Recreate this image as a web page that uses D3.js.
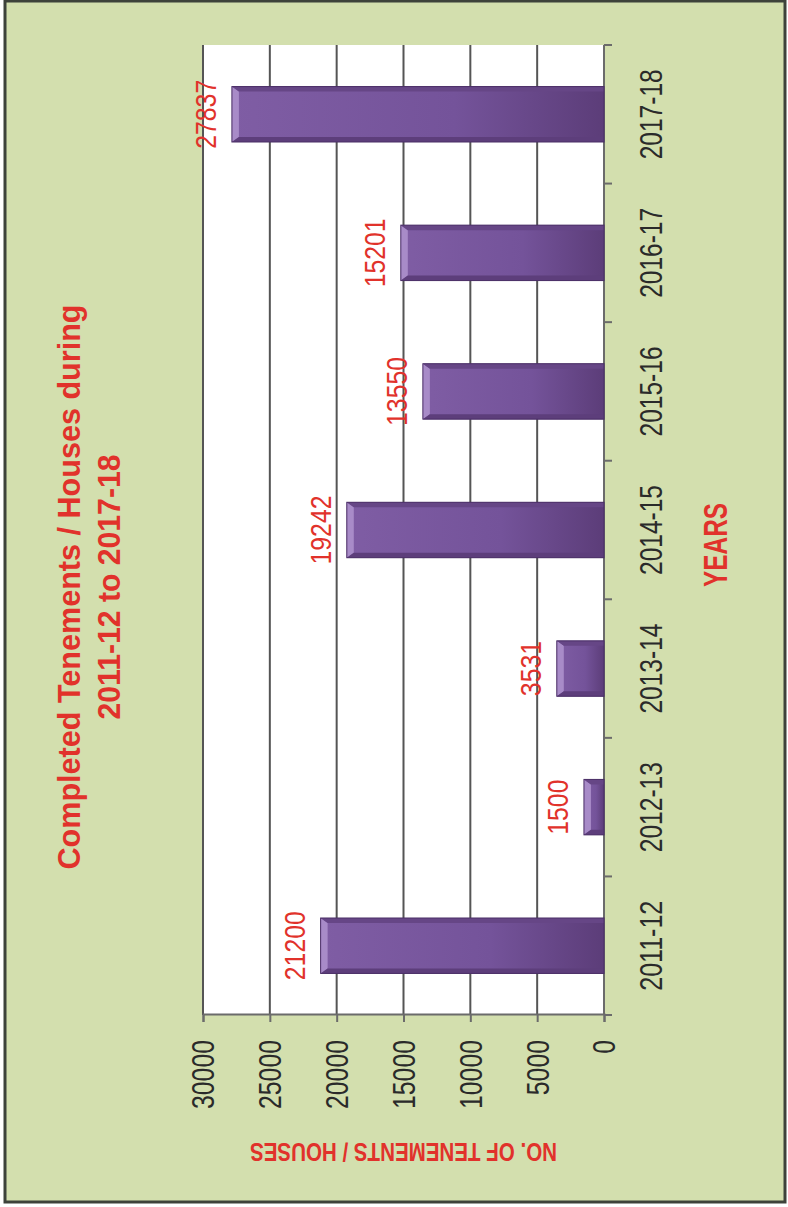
<!DOCTYPE html>
<html>
<head>
<meta charset="utf-8">
<script src="https://cdn.jsdelivr.net/npm/d3@7/dist/d3.min.js"></script>
<style>
  html, body { margin: 0; padding: 0; background: #ffffff; }
  svg { display: block; }
</style>
</head>
<body>
<svg id="chart" width="788" height="1207"></svg>
<script>
// ---- data ----
const categories = ["2011-12", "2012-13", "2013-14", "2014-15", "2015-16", "2016-17", "2017-18"];
const values = [21200, 1500, 3531, 19242, 13550, 15201, 27837];
const valueTicks = [0, 5000, 10000, 15000, 20000, 25000, 30000];
const titleLines = ["Completed Tenements / Houses during", "2011-12 to 2017-18"];
const xAxisTitle = "YEARS";
const yAxisTitle = "NO. OF TENEMENTS / HOUSES";

// ---- setup ----
const PW = 788, PH = 1207;
const svg = d3.select("#chart");
const RED = "#e1322b";
const FONT = "'Liberation Sans Narrow', 'Liberation Sans', Arial, sans-serif";
const CHAR_W = 13.8; // rendered width per numeral

// page background & frame
svg.append("rect").attr("x", 5).attr("y", 1).attr("width", 780).attr("height", 1201)
  .attr("fill", "#d3dfae").attr("stroke", "#3d423a").attr("stroke-width", 3);

// whole chart is drawn in a local (landscape) frame and rotated -90deg
const g = svg.append("g").attr("transform", `translate(0,${PH}) rotate(-90)`);

const plot = { left: 192, right: 1162, top: 203, bottom: 604 };

const x = d3.scaleBand().domain(categories).range([plot.left, plot.right])
  .paddingInner(0.6).paddingOuter(0.3);
const y = d3.scaleLinear().domain([0, 30000]).range([plot.bottom, plot.top]);

// defs: bar gradient
const defs = svg.append("defs");
const grad = defs.append("linearGradient").attr("id", "barGrad")
  .attr("x1", 0).attr("y1", 0).attr("x2", 0).attr("y2", 1);
grad.append("stop").attr("offset", "0%").attr("stop-color", "#7f5da4");
grad.append("stop").attr("offset", "60%").attr("stop-color", "#74539a");
grad.append("stop").attr("offset", "100%").attr("stop-color", "#5c3d79");

// plot area
g.append("rect").attr("x", plot.left).attr("y", plot.top)
  .attr("width", plot.right - plot.left).attr("height", plot.bottom - plot.top)
  .attr("fill", "#ffffff");

// gridlines
g.append("g").selectAll("line").data(valueTicks.filter(d => d > 0)).join("line")
  .attr("x1", plot.left).attr("x2", plot.right)
  .attr("y1", d => y(d)).attr("y2", d => y(d))
  .attr("stroke", "#555555").attr("stroke-width", 2);

// value axis (local left)
const yAxis = g.append("g").attr("transform", `translate(${plot.left},0)`)
  .call(d3.axisLeft(y).tickValues(valueTicks).tickSize(7).tickPadding(18).tickFormat(d3.format("d")));
yAxis.select(".domain").attr("stroke", "#6b6b6b").attr("stroke-width", 2);
yAxis.selectAll(".tick line").attr("stroke", "#6b6b6b").attr("stroke-width", 2);
yAxis.selectAll(".tick text").attr("font-family", FONT).attr("font-size", 31)
  .attr("fill", "#2a2a2a").attr("dy", "0.35em")
  .attr("textLength", d => String(d).length * CHAR_W).attr("lengthAdjust", "spacingAndGlyphs");

// category axis (local bottom)
const catTickVals = categories.map(c => x(c) - x.step() * x.paddingInner() / 2)
  .concat([plot.right]);
const xAxisG = g.append("g").attr("transform", `translate(0,${plot.bottom})`);
xAxisG.append("line").attr("x1", plot.left).attr("x2", plot.right)
  .attr("stroke", "#6b6b6b").attr("stroke-width", 2);
xAxisG.selectAll("line.tk").data(catTickVals).join("line").attr("class", "tk")
  .attr("x1", d => d).attr("x2", d => d).attr("y1", 0).attr("y2", 8)
  .attr("stroke", "#6b6b6b").attr("stroke-width", 2);
xAxisG.selectAll("text").data(categories).join("text")
  .attr("x", d => x(d) + x.bandwidth() / 2).attr("y", 58)
  .attr("text-anchor", "middle").attr("font-family", FONT).attr("font-size", 31)
  .attr("fill", "#2a2a2a").attr("textLength", 90).attr("lengthAdjust", "spacingAndGlyphs")
  .text(d => d);

// bars
const data = categories.map((c, i) => ({ c, v: values[i] }));
const bars = g.append("g").selectAll("g").data(data).join("g");
const s = 5, b = 7;
bars.append("rect")
  .attr("x", d => x(d.c)).attr("y", d => y(d.v))
  .attr("width", x.bandwidth()).attr("height", d => y(0) - y(d.v))
  .attr("fill", "url(#barGrad)");
// bevels
bars.append("polygon").attr("fill", "#a88bc8")
  .attr("points", d => {
    const x0 = x(d.c), w = x.bandwidth(), y0 = y(d.v);
    return [[x0, y0], [x0 + w, y0], [x0 + w - s, y0 + b], [x0 + s, y0 + b]].join(" ");
  });
bars.append("polygon").attr("fill", "#5d3e7b")
  .attr("points", d => {
    const x0 = x(d.c), y0 = y(d.v), y1 = y(0);
    return [[x0, y0], [x0 + s, y0 + b], [x0 + s, y1], [x0, y1]].join(" ");
  });
bars.append("polygon").attr("fill", "#664686")
  .attr("points", d => {
    const x0 = x(d.c), w = x.bandwidth(), y0 = y(d.v), y1 = y(0);
    return [[x0 + w, y0], [x0 + w - s, y0 + b], [x0 + w - s, y1], [x0 + w, y1]].join(" ");
  });
bars.append("rect")
  .attr("x", d => x(d.c)).attr("y", d => y(d.v))
  .attr("width", x.bandwidth()).attr("height", d => y(0) - y(d.v))
  .attr("fill", "none").attr("stroke", "#4a2e66").attr("stroke-width", 1);

// value labels
g.append("g").selectAll("text").data(data).join("text")
  .attr("x", d => x(d.c) + x.bandwidth() / 2).attr("y", d => y(d.v) - 16)
  .attr("text-anchor", "middle").attr("font-family", FONT).attr("font-size", 30)
  .attr("fill", RED)
  .attr("textLength", d => String(d.v).length * CHAR_W).attr("lengthAdjust", "spacingAndGlyphs")
  .text(d => d.v);

// title
const title = g.append("g").attr("font-family", FONT).attr("font-weight", "bold")
  .attr("fill", RED).attr("text-anchor", "middle");
title.append("text").attr("x", 620).attr("y", 80).attr("font-size", 32)
  .attr("textLength", 565).attr("lengthAdjust", "spacingAndGlyphs").text(titleLines[0]);
title.append("text").attr("x", 620).attr("y", 120).attr("font-size", 32)
  .attr("textLength", 265).attr("lengthAdjust", "spacingAndGlyphs").text(titleLines[1]);

// x axis title
g.append("text").attr("x", 662).attr("y", 727).attr("text-anchor", "middle")
  .attr("font-family", FONT).attr("font-weight", "bold").attr("font-size", 34)
  .attr("fill", RED).attr("textLength", 84).attr("lengthAdjust", "spacingAndGlyphs")
  .text(xAxisTitle);

// y axis title
g.append("text").attr("transform", `translate(64,${(plot.top + plot.bottom) / 2}) rotate(-90)`)
  .attr("text-anchor", "middle").attr("font-family", FONT).attr("font-weight", "bold")
  .attr("font-size", 26).attr("fill", RED)
  .attr("textLength", 307).attr("lengthAdjust", "spacingAndGlyphs")
  .text(yAxisTitle);
</script>
</body>
</html>
